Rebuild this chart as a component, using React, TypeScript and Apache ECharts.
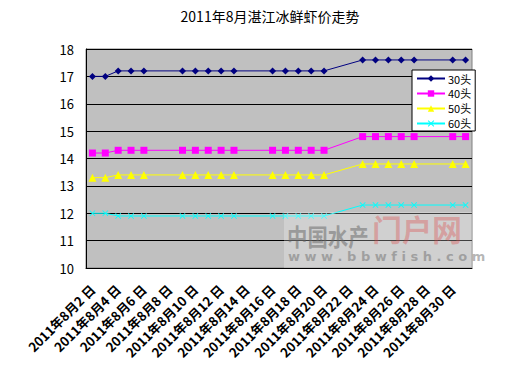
import React, { useEffect, useRef } from "react";
import * as echarts from "echarts";

const categories = [
  "2011年8月2日", "2011年8月3日", "2011年8月4日", "2011年8月5日", "2011年8月6日",
  "2011年8月7日", "2011年8月8日", "2011年8月9日", "2011年8月10日", "2011年8月11日",
  "2011年8月12日", "2011年8月13日", "2011年8月14日", "2011年8月15日", "2011年8月16日",
  "2011年8月17日", "2011年8月18日", "2011年8月19日", "2011年8月20日", "2011年8月21日",
  "2011年8月22日", "2011年8月23日", "2011年8月24日", "2011年8月25日", "2011年8月26日",
  "2011年8月27日", "2011年8月28日", "2011年8月29日", "2011年8月30日", "2011年8月31日",
];

const s30 = [17.0, 17.0, 17.2, 17.2, 17.2, null, null, 17.2, 17.2, 17.2, 17.2, 17.2, null, null, 17.2, 17.2, 17.2, 17.2, 17.2, null, null, 17.6, 17.6, 17.6, 17.6, 17.6, null, null, 17.6, 17.6];
const s40 = [14.2, 14.2, 14.3, 14.3, 14.3, null, null, 14.3, 14.3, 14.3, 14.3, 14.3, null, null, 14.3, 14.3, 14.3, 14.3, 14.3, null, null, 14.8, 14.8, 14.8, 14.8, 14.8, null, null, 14.8, 14.8];
const s50 = [13.3, 13.3, 13.4, 13.4, 13.4, null, null, 13.4, 13.4, 13.4, 13.4, 13.4, null, null, 13.4, 13.4, 13.4, 13.4, 13.4, null, null, 13.8, 13.8, 13.8, 13.8, 13.8, null, null, 13.8, 13.8];
const s60 = [12.0, 12.0, 11.9, 11.9, 11.9, null, null, 11.9, 11.9, 11.9, 11.9, 11.9, null, null, 11.9, 11.9, 11.9, 11.9, 11.9, null, null, 12.3, 12.3, 12.3, 12.3, 12.3, null, null, 12.3, 12.3];

const seriesNames = ["30头", "40头", "50头", "60头"];
const titleText = "2011年8月湛江冰鲜虾价走势";

const FONT = "'Noto Sans CJK SC', 'DejaVu Sans', sans-serif";
const X_SYMBOL = "path://M0,1L1,0L5,4L9,0L10,1L6,5L10,9L9,10L5,6L1,10L0,9L4,5Z";

export default function App() {
  const ref = useRef<HTMLDivElement>(null);
  useEffect(() => {
    if (!ref.current) return;
    const chart = echarts.init(ref.current, null, { renderer: "svg" });
    const mk = (name: string, data: (number | null)[], color: string, symbol: string, size: number) => ({
      name,
      type: "line",
      data,
      connectNulls: true,
      symbol,
      symbolSize: size,
      lineStyle: { color, width: 1 },
      itemStyle: { color, borderWidth: 0 },
      emphasis: { disabled: true },
    });
    chart.setOption({
      animation: false,
      textStyle: { fontFamily: FONT },
      title: {
        text: titleText,
        left: 265,
        top: 4,
        textAlign: "center",
        textStyle: { fontSize: 14, fontWeight: "normal", color: "#000", fontFamily: FONT },
      },
      grid: {
        left: 86,
        right: 41,
        top: 49,
        bottom: 99,
        show: true,
        backgroundColor: "#C0C0C0",
        borderColor: "#808080",
        borderWidth: 1,
      },
      legend: {
        orient: "vertical",
        left: 412,
        top: 70,
        width: 56,
        itemWidth: 28,
        itemHeight: 8,
        itemGap: 4,
        padding: [3, 4, 2, 4],
        backgroundColor: "#fff",
        borderColor: "#000",
        borderWidth: 1,
        borderRadius: 0,
        textStyle: { fontSize: 11, color: "#000", fontFamily: FONT, padding: [0, 0, 0, -2] },
        data: seriesNames,
      },
      xAxis: {
        type: "category",
        data: categories,
        boundaryGap: true,
        axisLine: { lineStyle: { color: "#000", width: 1 } },
        axisTick: { interval: 1, inside: true, length: 4, lineStyle: { color: "#000" } },
        axisLabel: {
          interval: 1,
          rotate: 45,
          fontSize: 13,
          fontWeight: "bold",
          color: "#000",
          margin: 19,
          fontFamily: FONT,
          formatter: (v: string) => v.replace("日", " 日"),
        },
        splitLine: { show: false },
      },
      yAxis: {
        type: "value",
        min: 10,
        max: 18,
        interval: 1,
        axisLine: { show: true, lineStyle: { color: "#000" } },
        axisTick: { show: false },
        axisLabel: { fontSize: 13, color: "#000", margin: 12, fontFamily: FONT },
        splitLine: { show: true, lineStyle: { color: "#000", width: 1 } },
      },
      series: [
        mk(seriesNames[0], s30, "#000080", "diamond", 7),
        mk(seriesNames[1], s40, "#FF00FF", "rect", 7),
        mk(seriesNames[2], s50, "#FFFF00", "triangle", 8),
        mk(seriesNames[3], s60, "#00FFFF", X_SYMBOL, 6),
      ],
      graphic: [
        {
          type: "rect",
          shape: { x: 284, y: 212, width: 188, height: 56 },
          style: { fill: "rgba(255,255,255,0.25)" },
          silent: true,
          z: 100,
        },
        {
          type: "text",
          x: 287,
          y: 223,
          scaleX: 0.85,
          style: { text: "中国水产", font: "bold 24px 'Noto Sans CJK SC'", fill: "rgba(100,100,100,0.5)" },
          silent: true,
          z: 101,
        },
        {
          type: "text",
          x: 372,
          y: 213,
          style: { text: "门户网", font: "bold 30px 'Noto Sans CJK SC'", fill: "rgba(220,70,70,0.35)" },
          silent: true,
          z: 101,
        },
        {
          type: "text",
          x: 288,
          y: 250,
          style: { text: "w w w . b b w f i s h . c o m", font: "bold 13px 'DejaVu Sans'", fill: "rgba(110,110,110,0.5)" },
          silent: true,
          z: 101,
        },
      ],
    });
    return () => chart.dispose();
  }, []);
  return <div ref={ref} style={{ width: 513, height: 367, position: "absolute", left: 0, top: 0 }} />;
}
